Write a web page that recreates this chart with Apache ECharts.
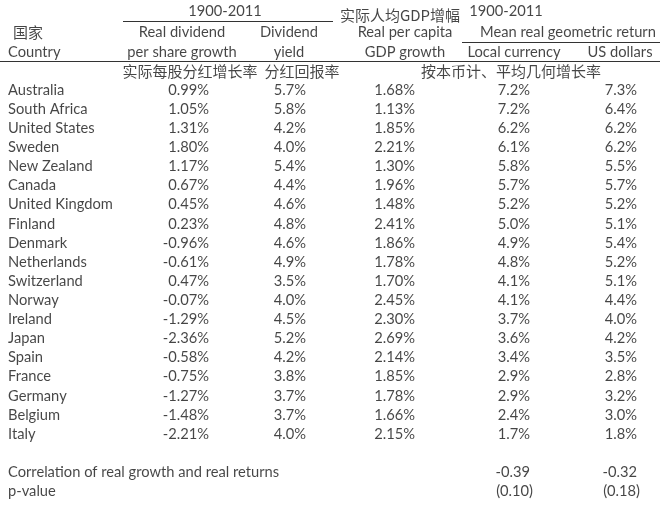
<!DOCTYPE html>
<html><head><meta charset="utf-8">
<script src="https://cdn.jsdelivr.net/npm/echarts@6/dist/echarts.min.js"></script>
<style>html,body{margin:0;padding:0;background:#fff}#c{width:660px;height:515px}</style>
</head><body><div id="c"></div>
<script>
// ---- data ----
const countries = ['Australia','South Africa','United States','Sweden','New Zealand','Canada','United Kingdom','Finland','Denmark','Netherlands','Switzerland','Norway','Ireland','Japan','Spain','France','Germany','Belgium','Italy'];
const divGrowth = [0.99,1.05,1.31,1.80,1.17,0.67,0.45,0.23,-0.96,-0.61,0.47,-0.07,-1.29,-2.36,-0.58,-0.75,-1.27,-1.48,-2.21];
const divYield  = [5.7,5.8,4.2,4.0,5.4,4.4,4.6,4.8,4.6,4.9,3.5,4.0,4.5,5.2,4.2,3.8,3.7,3.7,4.0];
const gdpGrowth = [1.68,1.13,1.85,2.21,1.30,1.96,1.48,2.41,1.86,1.78,1.70,2.45,2.30,2.69,2.14,1.85,1.78,1.66,2.15];
const localReturn = [7.2,7.2,6.2,6.1,5.8,5.7,5.2,5.0,4.9,4.8,4.1,4.1,3.7,3.6,3.4,2.9,2.9,2.4,1.7];
const usdReturn   = [7.3,6.4,6.2,6.2,5.5,5.7,5.2,5.1,5.4,5.2,5.1,4.4,4.0,4.2,3.5,2.8,3.2,3.0,1.8];
const correlation = [-0.39,-0.32];
const pValues = [0.10,0.18];
const footLabels = ['Correlation of real growth and real returns','p-value'];
const periodLabel = '1900-2011';
const headerEn = {
  country: ['国家','Country'],
  divGrowth: ['Real dividend','per share growth'],
  divYield: ['Dividend','yield'],
  gdp: ['Real per capita','GDP growth'],
  ret: 'Mean real geometric return',
  local: 'Local currency',
  usd: 'US dollars'
};
const headerCn = {
  gdp: '实际人均GDP增幅',
  divGrowth: '实际每股分红增长率',
  divYield: '分红回报率',
  ret: '按本币计、平均几何增长率'
};

// ---- layout (positions in axis units; x: 0..660, y: row index) ----
const X = {left:8, cnLeft:13, divC:182, divR:209, yldC:289, yldR:306, gdpC:405, gdpR:415,
           groupL:225, groupR:506, cnGdp:400, retC:568, locC:514, locR:530, usdC:620, usdR:637,
           cnDiv:190, cnYld:302, cnRet:511};
const firstRow = 4, footRow = 24;
const font = 'Lato, "Noto Sans CJK SC", sans-serif';
const cnFont = '"Noto Sans CJK SC", sans-serif';
const txt = '#161616';

const cells = [];
function cell(x, y, text, align, opts){
  cells.push({value:[x,y], label:Object.assign({formatter:text, align:align||'center'}, opts||{})});
}
// header
cell(X.groupL, -0.12, periodLabel);
cell(X.groupR, -0.12, periodLabel);
cell(X.cnGdp, 0.1, headerCn.gdp, 'center', {fontFamily:cnFont, fontSize:15});
cell(X.cnLeft, 1, headerEn.country[0], 'left', {fontFamily:cnFont, fontSize:15});
cell(X.left, 2, headerEn.country[1], 'left');
cell(X.divC, 1, headerEn.divGrowth[0]); cell(X.divC, 2, headerEn.divGrowth[1]);
cell(X.yldC, 1, headerEn.divYield[0]); cell(X.yldC, 2, headerEn.divYield[1]);
cell(X.gdpC, 1, headerEn.gdp[0]); cell(X.gdpC, 2, headerEn.gdp[1]);
cell(X.retC, 1, headerEn.ret);
cell(X.locC, 2, headerEn.local); cell(X.usdC, 2, headerEn.usd);
cell(X.cnDiv, 3, headerCn.divGrowth, 'center', {fontFamily:cnFont, fontSize:15});
cell(X.cnYld, 3, headerCn.divYield, 'center', {fontFamily:cnFont, fontSize:15});
cell(X.cnRet, 3, headerCn.ret, 'center', {fontFamily:cnFont, fontSize:15});
// body
countries.forEach((c,i)=>{
  const r = firstRow + i;
  cell(X.left, r, c, 'left');
  cell(X.divR, r, divGrowth[i].toFixed(2)+'%', 'right');
  cell(X.yldR, r, divYield[i].toFixed(1)+'%', 'right');
  cell(X.gdpR, r, gdpGrowth[i].toFixed(2)+'%', 'right');
  cell(X.locR, r, localReturn[i].toFixed(1)+'%', 'right');
  cell(X.usdR, r, usdReturn[i].toFixed(1)+'%', 'right');
});
// footer
cell(X.left, footRow, footLabels[0], 'left');
cell(X.left, footRow+1, footLabels[1], 'left');
cell(X.locR, footRow, correlation[0].toFixed(2), 'right');
cell(X.usdR, footRow, correlation[1].toFixed(2), 'right');
cell(X.locR+3, footRow+1, '('+pValues[0].toFixed(2)+')', 'right');
cell(X.usdR+3, footRow+1, '('+pValues[1].toFixed(2)+')', 'right');

const rules = [
  [[0,-0.62],[660,-0.62]],
  [[123,0.42],[333,0.42]],
  [[462,1.48],[660,1.48]],
  [[0,2.5],[660,2.5]],
  [[123,-0.62],[123,-0.8]],
  [[327,-0.62],[327,-0.8]]
];

const chart = echarts.init(document.getElementById('c'), null, {renderer:'canvas'});
chart.setOption({
  animation:false,
  backgroundColor:'#fff',
  grid:{left:0,right:0,top:4,bottom:14},
  xAxis:{type:'value',min:0,max:660,show:false},
  yAxis:{type:'value',min:-0.5,max:25.5,inverse:true,show:false},
  series:[{
    type:'scatter', silent:true, symbolSize:0.01,
    itemStyle:{color:'transparent'},
    label:{show:true, position:'inside', verticalAlign:'middle', color:txt, fontFamily:font, fontSize:14.7},
    data:cells,
    markLine:{silent:true, symbol:'none', animation:false, label:{show:false},
      lineStyle:{color:'#333', width:1, type:'solid'},
      data:rules.map(r=>[{coord:r[0]},{coord:r[1]}])}
  }]
});
</script></body></html>
